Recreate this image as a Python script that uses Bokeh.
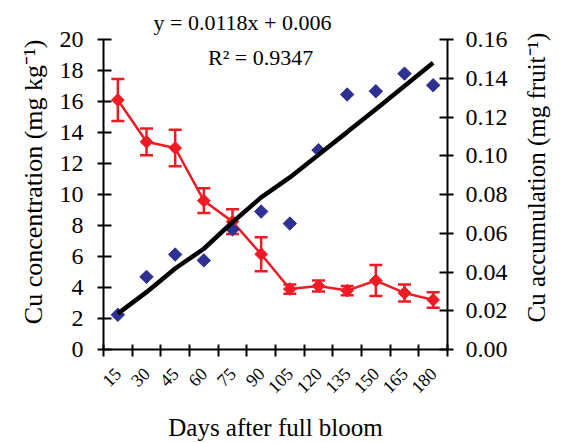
from math import pi
from bokeh.plotting import figure
from bokeh.models import (Range1d, LinearAxis, FixedTicker, ColumnDataSource,
                          Whisker, TeeHead, Label, Title)
from bokeh.embed import file_html
from bokeh.resources import INLINE

# ---------------- data ----------------
days = ["15", "30", "45", "60", "75", "90", "105", "120", "135", "150", "165", "180"]
cu_conc = [16.1, 13.4, 13.0, 9.6, 8.25, 6.15, 3.9, 4.1, 3.8, 4.45, 3.65, 3.2]          # mg kg-1
cu_conc_err = [1.35, 0.86, 1.18, 0.8, 0.8, 1.1, 0.3, 0.35, 0.3, 1.0, 0.55, 0.5]
cu_accum = [0.0179, 0.0375, 0.049, 0.046, 0.062, 0.0712, 0.065, 0.1029, 0.1316, 0.1333, 0.1424, 0.1364]  # mg fruit-1
trend = [0.0185, 0.0296, 0.0418, 0.052, 0.0657, 0.0785, 0.0888, 0.1005, 0.1122, 0.124, 0.136, 0.148]
left_ticks = [0, 2, 4, 6, 8, 10, 12, 14, 16, 18, 20]
right_ticks = [0.0, 0.02, 0.04, 0.06, 0.08, 0.1, 0.12, 0.14, 0.16]
right_tick_labels = ["0.00", "0.02", "0.04", "0.06", "0.08", "0.10", "0.12", "0.14", "0.16"]
equation_text = "y = 0.0118x + 0.006"
r2_text = "R\u00b2 = 0.9347"
x_title = "Days after full bloom"
left_title = "Cu concentration (mg kg\u207b\u00b9)"
right_title = "Cu accumulation (mg fruit\u207b\u00b9)"

idx = list(range(1, len(days) + 1))
lower = [v - e for v, e in zip(cu_conc, cu_conc_err)]
upper = [v + e for v, e in zip(cu_conc, cu_conc_err)]

FONT = "Liberation Serif"
RED = "#ED1C24"
BLUE = "#2E3192"

p = figure(width=566, height=443, output_backend="svg", toolbar_location=None,
           x_range=Range1d(0.5, 12.5), y_range=Range1d(0, 20),
           min_border_left=103, min_border_right=116, min_border_top=39, min_border_bottom=94)
p.extra_y_ranges = {"acc": Range1d(0, 0.16)}
p.outline_line_color = None
p.xgrid.visible = False
p.ygrid.visible = False
p.background_fill_color = "white"
p.border_fill_color = "white"

def style_axis(ax):
    ax.axis_line_color = "black"
    ax.axis_line_width = 2
    ax.major_tick_line_color = "black"
    ax.major_tick_line_width = 2
    ax.minor_tick_line_color = None
    ax.major_label_text_font = FONT
    ax.major_label_text_color = "black"
    ax.axis_label_text_font = FONT
    ax.axis_label_text_font_style = "normal"
    ax.axis_label_text_font_size = "25px"
    ax.axis_label_text_color = "black"

def title_axis(anchor, text, standoff, size):
    # a bare axis whose only tick label is the rotated axis title
    ax = LinearAxis(ticker=FixedTicker(ticks=[anchor]),
                    major_label_overrides={anchor: text})
    ax.axis_line_color = None
    ax.major_tick_line_color = None
    ax.minor_tick_line_color = None
    ax.major_tick_in = 0
    ax.major_tick_out = 0
    ax.major_label_standoff = standoff
    ax.major_label_orientation = pi / 2
    ax.major_label_text_font = FONT
    ax.major_label_text_font_size = size
    ax.major_label_text_color = "black"
    return ax

# left axis
yl = p.yaxis[0]
yl.ticker = FixedTicker(ticks=left_ticks)
style_axis(yl)
yl.major_tick_in = 8
yl.major_tick_out = 6
yl.major_label_standoff = 14
yl.major_label_text_font_size = "24px"

# left title: text ends at the top of the axis
p.add_layout(title_axis(20, left_title, 23, "26px"), "left")

# right axis
yr = LinearAxis(y_range_name="acc", ticker=FixedTicker(ticks=right_ticks),
                major_label_overrides={t: s for t, s in zip(right_ticks, right_tick_labels)})
style_axis(yr)
yr.major_tick_in = 8
yr.major_tick_out = 6
yr.major_label_standoff = 12
yr.major_label_text_font_size = "24px"
p.add_layout(yr, "right")

# right title: text starts near the bottom of the axis
p.add_layout(title_axis(1.75, right_title, 26, "25px"), "right")

# x axis: labels at category centres, ticks at category boundaries
xa = p.xaxis[0]
bounds = [i + 0.5 for i in range(0, len(days) + 1)]
xa.ticker = FixedTicker(ticks=idx, minor_ticks=bounds)
style_axis(xa)
xa.major_tick_in = 0
xa.major_tick_out = 0
xa.minor_tick_line_color = "black"
xa.minor_tick_line_width = 2
xa.minor_tick_in = 5
xa.minor_tick_out = 7
xa.major_label_overrides = {i: d for i, d in zip(idx, days)}
xa.major_label_orientation = pi / 4
xa.major_label_standoff = 14
xa.major_label_text_font_size = "18px"
xa.axis_label = x_title
xa.axis_label_standoff = 12

# red series (concentration) with error bars
src = ColumnDataSource(dict(x=idx, y=cu_conc, lower=lower, upper=upper))
p.add_layout(Whisker(source=src, base="x", lower="lower", upper="upper",
                     line_color=RED, line_width=2.5,
                     upper_head=TeeHead(size=13, line_color=RED, line_width=2.5),
                     lower_head=TeeHead(size=13, line_color=RED, line_width=2.5)))
p.line("x", "y", source=src, line_color=RED, line_width=2.5)
p.scatter("x", "y", source=src, marker="square", angle=pi / 4, size=9,
          fill_color=RED, line_color=RED)

# blue series (accumulation) and trend line
p.scatter(idx, cu_accum, y_range_name="acc", marker="square", angle=pi / 4, size=9.5,
          fill_color=BLUE, line_color=BLUE)
p.line(idx, trend, y_range_name="acc", line_color="black", line_width=4.5)

# regression texts
p.add_layout(Title(text=equation_text, align="left", offset=50, standoff=9,
                   text_font=FONT, text_font_size="22px", text_font_style="normal",
                   text_color="black"), "above")
p.add_layout(Label(x=5.98, y=18.83, text=r2_text, text_align="center",
                   text_baseline="middle", text_font=FONT, text_font_size="22px",
                   text_color="black"))

open("out.html", "w").write(file_html(p, INLINE))
